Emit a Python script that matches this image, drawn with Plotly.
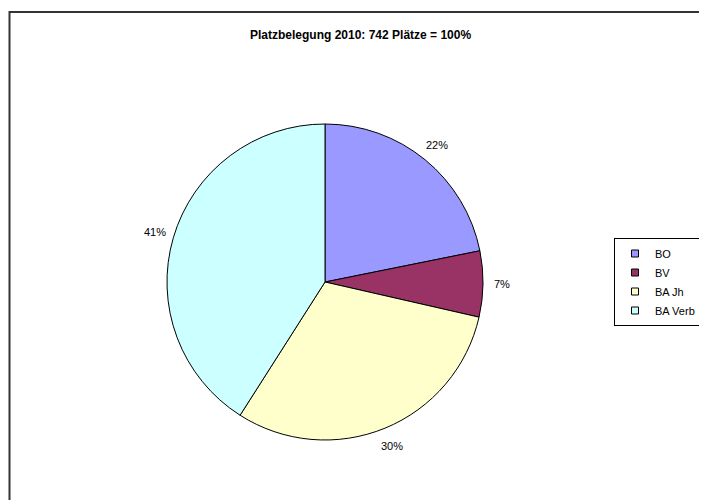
import math
import plotly.graph_objects as go

# ---- data ----
categories = ["BO", "BV", "BA Jh", "BA Verb"]
places = [162, 50, 226, 304]          # 742 Plätze total
colors = ["#9999FF", "#993366", "#FFFFCC", "#CCFFFF"]
title_text = "Platzbelegung 2010: 742 Plätze = 100%"

W, H = 707, 500
OX, OY = 8, 8                      # page body margin offset
cx_px, cy_px, r_px = 325 - OX, 282 - OY, 158
label_r_px = 177
FONT = "Liberation Sans, Arial, sans-serif"


def px(x):
    return x / W


def py(y):
    return 1 - y / H


fig = go.Figure()
fig.add_trace(go.Pie(
    labels=categories, values=places,
    marker=dict(colors=colors, line=dict(color="#000000", width=1)),
    sort=False, direction="clockwise", rotation=0,
    textinfo="none", hoverinfo="label+percent",
    showlegend=False,
    domain=dict(x=[px(cx_px - r_px), px(cx_px + r_px)],
                y=[py(cy_px + r_px), py(cy_px - r_px)]),
))

# legend entries (small square symbols)
for name, col in zip(categories, colors):
    fig.add_trace(go.Scatter(
        x=[None], y=[None], mode="markers", name=name,
        marker=dict(symbol="square", size=7, color=col,
                    line=dict(color="#000000", width=1)),
        hoverinfo="skip",
    ))

# percentage labels outside the slices, from the data
total = sum(places)
annotations = []
cum = 0
for v in places:
    mid = (cum + v / 2) / total
    cum += v
    ang = 2 * math.pi * mid
    lx = cx_px + label_r_px * math.sin(ang)
    ly = cy_px - label_r_px * math.cos(ang)
    annotations.append(dict(
        x=px(lx), y=py(ly), xref="paper", yref="paper",
        text=f"{round(100 * v / total)}%", showarrow=False,
        xanchor="center", yanchor="middle",
        font=dict(family=FONT, size=11, color="#000000"),
    ))

annotations.append(dict(
    x=px(360 - OX), y=py(35 - OY), xref="paper", yref="paper",
    text=f"<b>{title_text}</b>", showarrow=False,
    xanchor="center", yanchor="middle",
    font=dict(family=FONT, size=12, color="#000000"),
))

fig.update_layout(
    width=W, height=H,
    margin=dict(l=0, r=0, t=0, b=0, autoexpand=False),
    paper_bgcolor="#FFFFFF", plot_bgcolor="#FFFFFF",
    xaxis=dict(visible=False), yaxis=dict(visible=False),
    annotations=annotations,
    legend=dict(
        x=px(614 - OX), y=py(238 - OY), xanchor="left", yanchor="top",
        bordercolor="#000000", borderwidth=1, bgcolor="#FFFFFF",
        font=dict(family=FONT, size=11, color="#000000"),
        itemwidth=30, tracegroupgap=0,
    ),
    shapes=[dict(
        type="rect", xref="paper", yref="paper",
        x0=px(1.5), x1=1.05, y0=-0.05, y1=py(11 - OY + 1),
        line=dict(color="#333333", width=2), fillcolor="rgba(0,0,0,0)",
        layer="below",
    )],
)

fig.write_html("out.html")
